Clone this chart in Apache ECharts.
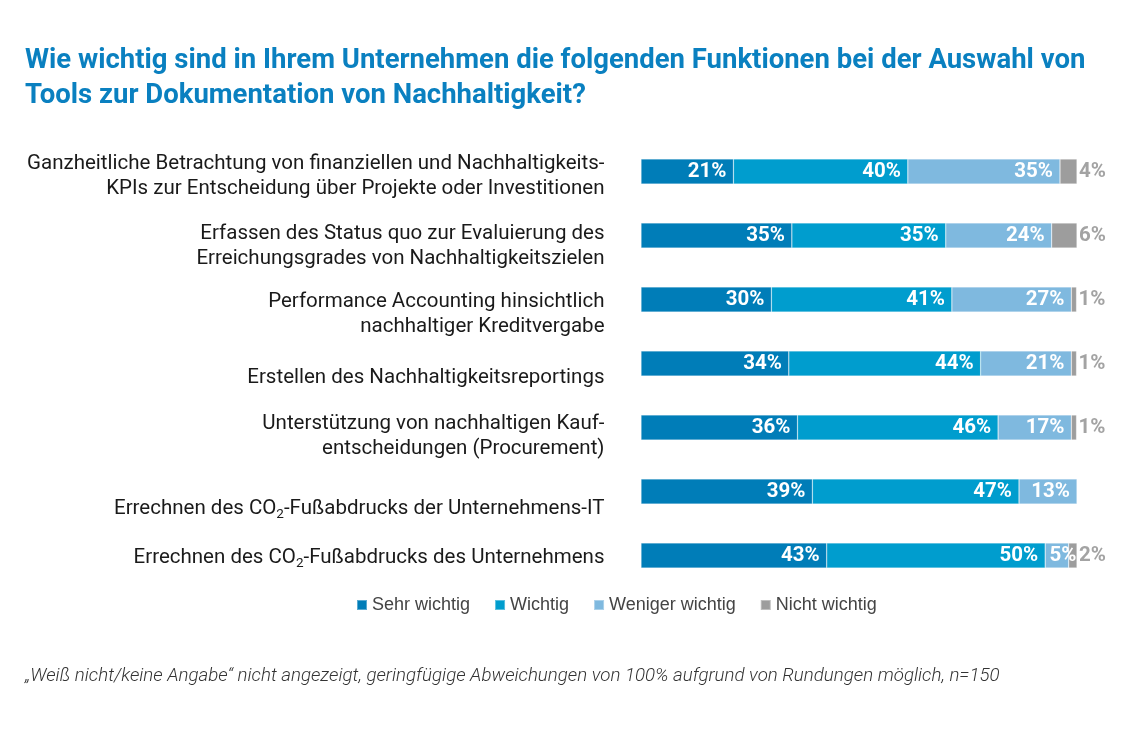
<!DOCTYPE html>
<html><head><meta charset="utf-8">
<script src="https://cdn.jsdelivr.net/npm/echarts@6/dist/echarts.min.js"></script>
<style>html,body{margin:0;padding:0;background:#fff;}#c{width:1138px;height:732px;}</style>
</head><body><div id="c"></div>
<script>
const categories = [
  "Ganzheitliche Betrachtung von finanziellen und Nachhaltigkeits-\nKPIs zur Entscheidung über Projekte oder Investitionen",
  "Erfassen des Status quo zur Evaluierung des\nErreichungsgrades von Nachhaltigkeitszielen",
  "Performance Accounting hinsichtlich\nnachhaltiger Kreditvergabe",
  "Erstellen des Nachhaltigkeitsreportings",
  "Unterstützung von nachhaltigen Kauf-\nentscheidungen (Procurement)",
  "Errechnen des CO₂-Fußabdrucks der Unternehmens-IT",
  "Errechnen des CO₂-Fußabdrucks des Unternehmens"
];
const seriesNames = ["Sehr wichtig", "Wichtig", "Weniger wichtig", "Nicht wichtig"];
const sehrWichtig    = [21.2, 34.6, 29.9, 33.9, 35.9, 39.3, 42.6];
const wichtig        = [40.0, 35.3, 41.4, 44.0, 46.0, 47.4, 50.1];
const wenigerWichtig = [34.9, 24.3, 27.4, 20.8, 16.8, 13.3, 5.4];
const nichtWichtig   = [3.9, 5.8, 1.2, 1.2, 1.2, null, 1.9];

// style: colours and per-label vertical nudges (px) of the category texts
const colors = ["#007DB8", "#009DCE", "#7FB9DF", "#9D9D9D"];
const labelNudge = [5, 11, 15, 14, 9, 17, 2];

const title = "Wie wichtig sind in Ihrem Unternehmen die folgenden Funktionen bei der Auswahl von\nTools zur Dokumentation von Nachhaltigkeit?";
const footnote = "„Weiß nicht/keine Angabe“ nicht angezeigt, geringfügige Abweichungen von 100% aufgrund von Rundungen möglich, n=150";

const FONT = 'Roboto';
const LABEL_SIZE = 20.5;
const fmt = p => (p.value == null || p.value === 0) ? '' : Math.round(p.value) + '%';
const dataSets = [sehrWichtig, wichtig, wenigerWichtig, nichtWichtig];

const series = dataSets.map((d, i) => ({
  name: seriesNames[i],
  type: 'bar',
  stack: 'total',
  barWidth: 25,
  data: d.map(v => (i < 3 && v != null && v < 8)
    ? { value: v, label: { position: 'inside', offset: [6, 0] } }
    : v),
  itemStyle: { color: colors[i], borderColor: 'rgba(255,255,255,0.35)', borderWidth: 0.6 },
  label: i < 3 ? {
    show: true, position: 'insideRight', distance: 7, formatter: fmt,
    color: '#fff', fontFamily: FONT, fontWeight: 'bold', fontSize: LABEL_SIZE
  } : {
    show: true, position: 'right', distance: 2, formatter: fmt,
    color: '#A3A3A3', fontFamily: FONT, fontWeight: 'bold', fontSize: LABEL_SIZE
  },
  emphasis: { disabled: true }
}));

const rich = {};
labelNudge.forEach((d, i) => {
  rich['t' + i] = { fontFamily: FONT, fontSize: LABEL_SIZE, color: '#1a1a1a', lineHeight: 24.5, padding: [2 * d, 0, 0, 0] };
  rich['s' + i] = { fontFamily: FONT, fontSize: 13.5, color: '#1a1a1a', lineHeight: 24.5, padding: [2 * d + 13, 0, 0, 0] };
});
const catFormatter = (v, idx) => v.split('\n').map(line =>
  line.split('₂').map(part => part ? '{t' + idx + '|' + part + '}' : '').join('{s' + idx + '|2}')
).join('\n');

const chart = echarts.init(document.getElementById('c'), null, { renderer: 'canvas' });
chart.setOption({
  animation: false,
  backgroundColor: '#fff',
  title: [{
    text: title, left: 20, top: 38.5,
    textStyle: { color: '#0A80C0', fontFamily: FONT, fontWeight: 'bold', fontSize: 27.5, lineHeight: 35 }
  }, {
    text: footnote, left: 20, top: 662,
    textStyle: { color: '#333', fontFamily: FONT, fontStyle: 'italic', fontWeight: 300, fontSize: 18.7 }
  }],
  legend: {
    data: seriesNames, left: 351, top: 591, itemWidth: 10, itemHeight: 10, itemGap: 24,
    icon: 'rect',
    textStyle: { color: '#444', fontFamily: 'Liberation Sans', fontSize: 18 }
  },
  grid: { left: 641, right: 61, top: 139.5, height: 448, containLabel: false },
  xAxis: { type: 'value', min: 0, max: 100, show: false },
  yAxis: {
    type: 'category', data: categories, inverse: true,
    axisLine: { show: false }, axisTick: { show: false },
    axisLabel: {
      margin: 36.5, color: '#1a1a1a', fontFamily: FONT, fontSize: LABEL_SIZE, lineHeight: 24.5, align: 'right',
      formatter: catFormatter, rich: rich
    }
  },
  series: series
});
</script>
</body></html>
